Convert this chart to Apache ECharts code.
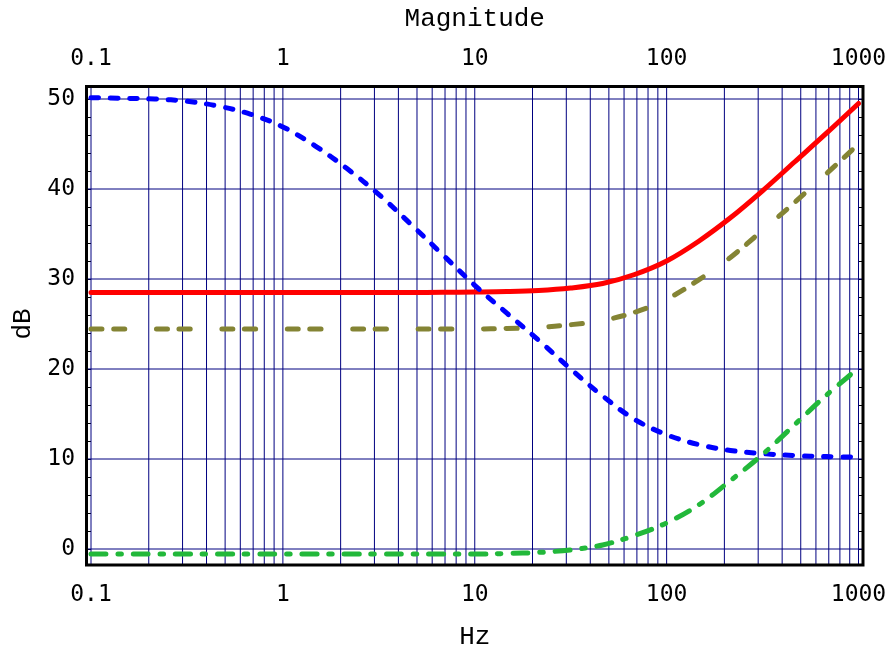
<!DOCTYPE html>
<html>
<head>
<meta charset="utf-8">
<title>Magnitude</title>
<script src="https://cdn.jsdelivr.net/npm/echarts@6.0.0/dist/echarts.min.js"></script>
<style>
  html, body { margin: 0; padding: 0; background: #fff; }
  #chart { width: 892px; height: 646px; }
</style>
</head>
<body>
<div id="chart"></div>
<script>
// frequencies (Hz) the curves were read at, six per decade
var freqs = [0.1, 0.147, 0.215, 0.316, 0.464, 0.681, 1, 1.47, 2.15, 3.16, 4.64, 6.81, 10, 14.7, 21.5, 31.6, 46.4, 68.1, 100, 147, 215, 316, 464, 681, 1000]

var redDb = [28.5, 28.5, 28.5, 28.5, 28.5, 28.5, 28.5, 28.5, 28.5, 28.5, 28.5, 28.52, 28.55, 28.6, 28.72, 29.0, 29.5, 30.5, 32.0, 34.2, 36.8, 39.8, 43.0, 46.2, 49.5]
var oliveDb = [24.45, 24.45, 24.45, 24.45, 24.45, 24.45, 24.45, 24.45, 24.45, 24.45, 24.45, 24.45, 24.45, 24.5, 24.62, 24.92, 25.4, 26.3, 27.75, 29.9, 32.4, 35.4, 38.5, 41.7, 45.0]
var blueDb = [50.15, 50.08, 50.0, 49.75, 49.2, 48.3, 46.9, 44.8, 42.3, 39.4, 36.1, 32.7, 29.3, 26.2, 23.2, 20.0, 17.0, 14.4, 12.7, 11.6, 10.95, 10.6, 10.38, 10.27, 10.2]
var greenDb = [-0.55, -0.55, -0.55, -0.55, -0.55, -0.55, -0.55, -0.55, -0.55, -0.55, -0.55, -0.55, -0.55, -0.5, -0.38, -0.1, 0.45, 1.5, 2.9, 4.9, 7.6, 10.5, 13.8, 17.1, 20.1]

// grid lines
var gridFreqs = [0.1, 0.2, 0.3, 0.4, 0.5, 0.6, 0.7, 0.8, 0.9,
  1, 2, 3, 4, 5, 6, 7, 8, 9,
  10, 20, 30, 40, 50, 60, 70, 80, 90,
  100, 200, 300, 400, 500, 600, 700, 800, 900, 1000]
var gridDb = [0, 10, 20, 30, 40, 50]
// what the black frame encloses, in data units
var frameFreq = [0.0948, 1055]
var frameDb = [-1.78, 51.39]

var tickFont = 'DejaVu Sans Mono'
var nameFont = 'Liberation Mono'

function pairs(ys) {
  return freqs.map(function (f, i) { return [f, ys[i]] })
}

function curve(ys, color, dash, z) {
  return {
    type: 'line',
    data: pairs(ys),
    xAxisIndex: 0,
    yAxisIndex: 0,
    symbol: 'none',
    clip: false,
    smooth: 0.35,
    z: z,
    lineStyle: { color: color, width: 5, type: dash, cap: 'round', join: 'round' }
  }
}

function xAxisOpt(pos, name, gap, margin) {
  return {
    type: 'log', logBase: 10, gridIndex: 0, position: pos,
    min: 0.1, max: 1000,
    name: name, nameLocation: 'middle', nameGap: gap,
    nameTextStyle: { fontFamily: nameFont, fontSize: 26, color: '#000' },
    axisLine: { show: false },
    axisTick: { show: false },
    splitLine: { show: false },
    axisLabel: {
      margin: margin, fontFamily: tickFont, fontSize: 23, color: '#000',
      formatter: function (v) { return String(+(+v).toPrecision(6)) }
    }
  }
}

function yAxisOpt(pos, showLabel) {
  return {
    type: 'value', gridIndex: 0, position: pos,
    min: 0, max: 50, interval: 10,
    name: showLabel ? 'dB' : '', nameLocation: 'middle', nameGap: 55,
    nameTextStyle: { fontFamily: nameFont, fontSize: 26, color: '#000' },
    axisLine: { show: false },
    axisTick: { show: true, inside: false, length: 4, lineStyle: { color: '#000', width: 1 } },
    minorTick: { show: true, splitNumber: 5, length: 4, lineStyle: { color: '#000', width: 1 } },
    splitLine: { show: false },
    axisLabel: { show: showLabel, margin: 16, fontFamily: tickFont, fontSize: 23, color: '#000' }
  }
}

var myChart = echarts.init(document.getElementById('chart'))

myChart.setOption({
  backgroundColor: '#fff',
  animation: false,
  grid: [
    { left: 91, right: 33.5, top: 99, bottom: 97, outerBoundsMode: 'none' },
    { left: 86.5, right: 29, top: 86.5, bottom: 81, outerBoundsMode: 'none',
      show: true, borderColor: '#000', borderWidth: 3, backgroundColor: 'transparent', z: 5 }
  ],
  xAxis: [
    xAxisOpt('bottom', 'Hz', 75, 35),
    xAxisOpt('top', 'Magnitude', 67, 28),
    { type: 'value', gridIndex: 1, show: false, min: 0, max: 1 }
  ],
  yAxis: [
    yAxisOpt('left', true),
    yAxisOpt('right', false),
    { type: 'value', gridIndex: 1, show: false, min: 0, max: 1 }
  ],
  series: [
    {
      type: 'custom', xAxisIndex: 0, yAxisIndex: 0, silent: true, clip: false, z: 1,
      data: gridFreqs.map(function (f) { return [f, 0] }),
      renderItem: function (params, api) {
        var a = api.coord([api.value(0), frameDb[1]])
        var b = api.coord([api.value(0), frameDb[0]])
        return { type: 'line', shape: { x1: a[0], y1: a[1], x2: b[0], y2: b[1] },
          style: { stroke: '#000080', lineWidth: 1 } }
      }
    },
    {
      type: 'custom', xAxisIndex: 0, yAxisIndex: 0, silent: true, clip: false, z: 1,
      data: gridDb.map(function (v) { return [1, v] }),
      renderItem: function (params, api) {
        var a = api.coord([frameFreq[0], api.value(1)])
        var b = api.coord([frameFreq[1], api.value(1)])
        return { type: 'line', shape: { x1: a[0], y1: a[1], x2: b[0], y2: b[1] },
          style: { stroke: '#000080', lineWidth: 1 } }
      }
    },
    curve(redDb, '#ff0000', 'solid', 3),
    curve(oliveDb, '#848434', [11, 11.7, 11, 31.7], 4),
    curve(blueDb, '#0000ff', [7.5, 11.8], 5),
    curve(greenDb, '#22b83a', [15, 11.7, 3.5, 12], 6)
  ]
})
</script>
</body>
</html>
